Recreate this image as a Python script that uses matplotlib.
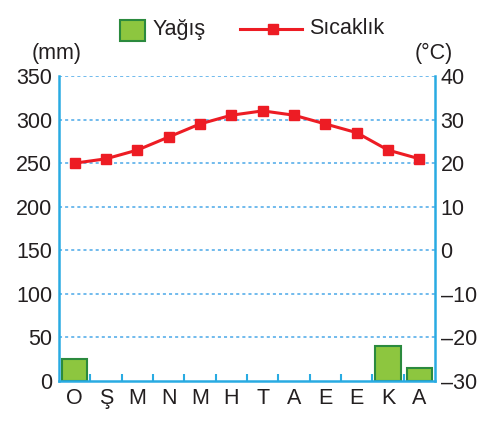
import matplotlib
matplotlib.use("Agg")
import matplotlib.pyplot as plt
from matplotlib.patches import Rectangle
from matplotlib.lines import Line2D

plt.rcParams['font.family'] = ['Liberation Sans', 'DejaVu Sans']

months = ["O", "Ş", "M", "N", "M", "H", "T", "A", "E", "E", "K", "A"]
precip_mm = [25, 0, 0, 0, 0, 0, 0, 0, 0, 0, 40, 15]
temp_c = [20, 21, 23, 26, 29, 31, 32, 31, 29, 27, 23, 21]
left_ticks = [0, 50, 100, 150, 200, 250, 300, 350]
right_ticks = [-30, -20, -10, 0, 10, 20, 30, 40]

blue = "#29abe2"
grid_blue = "#4aa8e8"
green = "#8dc63f"
green_edge = "#2b8a3e"
red = "#ed1c24"
fs = 15.5

fig = plt.figure(figsize=(4.96, 4.23), dpi=100)
ax = fig.add_axes([0.119, 0.0993, 0.758, 0.721])
x = list(range(len(months)))
edges = [green_edge if v > 0 else 'none' for v in precip_mm]
ax.bar(x, precip_mm, width=0.8, color=green, edgecolor=edges, linewidth=1.5, zorder=2)
ax.set_xlim(-0.5, 11.5)
ax.set_ylim(0, 350)
ax.set_yticks(left_ticks)
ax.set_yticklabels([str(t) for t in left_ticks], fontsize=fs, color="#231f20")
ax.tick_params(axis='y', length=0, pad=5)
ax.set_xticks(x)
ax.set_xticklabels(months, fontsize=fs, color="#231f20")
ax.tick_params(axis='x', length=0, pad=5)
ax.set_xticks([i + 0.5 for i in range(11)], minor=True)
ax.tick_params(axis='x', which='minor', direction='in', length=5, width=1.5, color=blue)
for t in left_ticks[1:]:
    ax.axhline(t, color=grid_blue, linestyle=(0, (2, 2)), linewidth=1.1, zorder=1)
for s in ['left', 'right', 'bottom']:
    ax.spines[s].set_color(blue)
    ax.spines[s].set_linewidth(1.8)
ax.spines['top'].set_visible(False)

ax2 = ax.twinx()
ax2.set_ylim(-30, 40)
ax2.plot(x, temp_c, color=red, linewidth=2.2, marker='s', markersize=7, zorder=4)
ax2.set_yticks(right_ticks)
ax2.set_yticklabels([str(t).replace('-', '\u2013') for t in right_ticks], fontsize=fs, color="#231f20")
ax2.tick_params(axis='y', length=0, pad=4)
for s in ['left', 'right', 'bottom', 'top']:
    ax2.spines[s].set_visible(False)

fig.text(32 / 496, 1 - 53 / 423, "(mm)", fontsize=fs, va='center', ha='left', color="#231f20")
fig.text(415 / 496, 1 - 53 / 423, "(°C)", fontsize=fs, va='center', ha='left', color="#231f20")

# legend
fig.patches.append(Rectangle((120 / 496, 1 - 41 / 423), 25 / 496, 21 / 423, transform=fig.transFigure,
                             facecolor=green, edgecolor=green_edge, linewidth=1.5))
fig.text(153 / 496, 1 - 29 / 423, "Yağış", fontsize=fs, va='center', ha='left', color="#231f20")
fig.lines.append(Line2D([240 / 496, 302 / 496], [1 - 29 / 423, 1 - 29 / 423], transform=fig.transFigure,
                        color=red, linewidth=2.2))
fig.lines.append(Line2D([273 / 496], [1 - 29 / 423], transform=fig.transFigure,
                        color=red, marker='s', markersize=7))
fig.text(309 / 496, 1 - 29 / 423, "Sıcaklık", fontsize=fs, va='center', ha='left', color="#231f20")

fig.savefig("out.png", dpi=100)
